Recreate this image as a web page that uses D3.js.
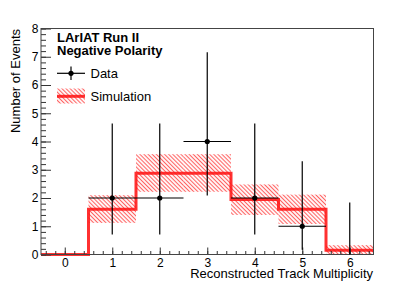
<!DOCTYPE html>
<html><head><meta charset="utf-8">
<script src="https://cdn.jsdelivr.net/npm/d3@7"></script>
<style>body{margin:0;background:#fff}svg{display:block}text{font-family:"Liberation Sans",Arial,sans-serif}</style>
</head><body>
<script>
const bins = [0,1,2,3,4,5,6];
const dataValues = [0,2,2,4,2,1,0];
const dataLow = [0,0.71,0.71,2.09,0.71,0.17,0];
const dataHigh = [0,4.64,4.64,7.16,4.64,3.30,1.84];
const simValues = [0,1.6,2.88,2.88,1.95,1.6,0.15];
const simLow = [0,1.12,2.22,2.22,1.4,1.08,0];
const simHigh = [0,2.1,3.55,3.55,2.48,2.12,0.33];
const xTicks = [0,1,2,3,4,5,6];
const yTicks = [0,1,2,3,4,5,6,7,8];
const titleLines = ["LArIAT Run II","Negative Polarity"];
const legendLabels = ["Data","Simulation"];

const W=415,H=283;
const svg=d3.select("body").append("svg").attr("width",W).attr("height",H);
const x=d3.scaleLinear().domain([-0.5,6.5]).range([41,373.5]);
const y=d3.scaleLinear().domain([0,8]).range([254.5,28.5]);

const defs=svg.append("defs");
const pat=defs.append("pattern").attr("id","hatch").attr("patternUnits","userSpaceOnUse")
  .attr("width",2.9).attr("height",2.9).attr("patternTransform","rotate(-45)");
pat.append("line").attr("x1",1.45).attr("y1",-1).attr("x2",1.45).attr("y2",4)
  .attr("stroke","rgb(255,70,70)").attr("stroke-width",1.1);

// bands
svg.append("g").selectAll("rect").data(bins.filter(i=>simHigh[i]>simLow[i])).join("rect")
  .attr("x",i=>x(i-0.5)).attr("width",i=>x(i+0.5)-x(i-0.5))
  .attr("y",i=>y(simHigh[i])).attr("height",i=>y(simLow[i])-y(simHigh[i]))
  .attr("fill","url(#hatch)").attr("opacity",0.85);

// step line
const pts=[];
bins.forEach(i=>{pts.push([i-0.5,simValues[i]]);pts.push([i+0.5,simValues[i]]);});
svg.append("path").attr("d",d3.line().x(d=>x(d[0])).y(d=>y(d[1]))(pts))
  .attr("fill","none").attr("stroke","#ff1515").attr("stroke-width",3).attr("opacity",0.88);

// axes
const yMinor=d3.range(0,8.001,0.2);
const xMinor=d3.range(-0.4,6.5,0.2);
const ga=svg.append("g");
ga.append("g").attr("transform",`translate(${x(-0.5)},0)`)
  .call(d3.axisLeft(y).tickValues(yMinor).tickSize(-5).tickFormat(""))
  .call(g=>g.select(".domain").remove());
ga.append("g").attr("transform",`translate(${x(-0.5)},0)`)
  .call(d3.axisLeft(y).tickValues(yTicks).tickSize(-10).tickPadding(2.5).tickFormat(d3.format("d")))
  .call(g=>g.select(".domain").remove())
  .call(g=>g.selectAll("text").attr("font-size",12).attr("fill","#000").attr("font-family","Liberation Sans, Arial, sans-serif"));
ga.append("g").attr("transform",`translate(0,${y(0)})`)
  .call(d3.axisBottom(x).tickValues(xMinor).tickSize(-3.5).tickFormat(""))
  .call(g=>g.select(".domain").remove());
ga.append("g").attr("transform",`translate(0,${y(0)})`)
  .call(d3.axisBottom(x).tickValues(xTicks).tickSize(-7).tickPadding(3.5).tickFormat(d3.format("d")))
  .call(g=>g.select(".domain").remove())
  .call(g=>g.selectAll("text").attr("font-size",12).attr("fill","#000").attr("font-family","Liberation Sans, Arial, sans-serif"));
ga.selectAll("line").attr("stroke","#333");

// frame
svg.append("rect").attr("x",x(-0.5)).attr("y",y(8)).attr("width",x(6.5)-x(-0.5)).attr("height",y(0)-y(8))
  .attr("fill","none").attr("stroke","#444").attr("stroke-width",1);

// data
const gd=svg.append("g").attr("stroke","#000").attr("stroke-width",1.2);
gd.selectAll(".v").data(bins.filter(i=>dataHigh[i]>dataLow[i])).join("line")
  .attr("x1",i=>x(i)).attr("x2",i=>x(i)).attr("y1",i=>y(dataLow[i])).attr("y2",i=>y(dataHigh[i]));
const nz=bins.filter(i=>dataValues[i]>0);
gd.selectAll(".h").data(nz).join("line")
  .attr("x1",i=>x(i-0.5)).attr("x2",i=>x(i+0.5)).attr("y1",i=>y(dataValues[i])).attr("y2",i=>y(dataValues[i]));
svg.append("g").selectAll("circle").data(nz).join("circle")
  .attr("cx",i=>x(i)).attr("cy",i=>y(dataValues[i])).attr("r",2.6).attr("fill","#000");

// legend
svg.selectAll(".tt").data(titleLines).join("text")
  .attr("x",57).attr("y",(d,i)=>42+i*13.3).attr("font-size",13).attr("font-weight","bold").text(d=>d);
const lg=svg.append("g");
lg.append("line").attr("x1",57).attr("x2",85).attr("y1",73.3).attr("y2",73.3).attr("stroke","#000").attr("stroke-width",1.2);
lg.append("line").attr("x1",71).attr("x2",71).attr("y1",66.5).attr("y2",80).attr("stroke","#000").attr("stroke-width",1.2);
lg.append("circle").attr("cx",71).attr("cy",73.3).attr("r",2.6).attr("fill","#000");
lg.append("rect").attr("x",57).attr("y",88.5).attr("width",28).attr("height",15).attr("fill","url(#hatch)").attr("opacity",0.85);
lg.append("line").attr("x1",57).attr("x2",85).attr("y1",96.3).attr("y2",96.3).attr("stroke","#ff1515").attr("stroke-width",3).attr("opacity",0.88);
lg.selectAll("text").data(legendLabels).join("text")
  .attr("x",90.5).attr("y",(d,i)=>i?101:78).attr("font-size",13).text(d=>d);

// axis titles
svg.append("text").attr("x",373).attr("y",277.5).attr("text-anchor","end").attr("font-size",13)
  .text("Reconstructed Track Multiplicity");
svg.append("text").attr("transform","translate(19.8,29) rotate(-90)").attr("text-anchor","end").attr("font-size",13)
  .text("Number of Events");
</script>
</body></html>
